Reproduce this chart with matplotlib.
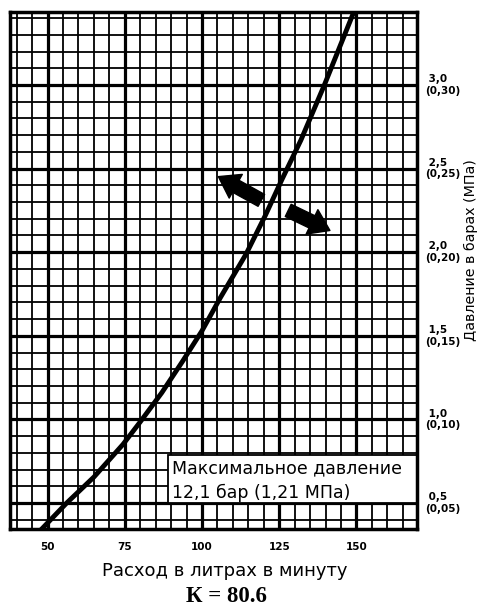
import numpy as np
import matplotlib
matplotlib.use("Agg")
import matplotlib.pyplot as plt
from matplotlib.patches import Rectangle, FancyArrowPatch

# curve (flow l/min, pressure bar)
flow = [47.9, 56.2, 65.0, 74.4, 80.0, 87.0, 93.8, 100.0, 106.0, 114.3, 120.5, 126.0, 132.0, 139.6, 149.2]
pressure = [0.34, 0.50, 0.655, 0.85, 0.985, 1.16, 1.35, 1.53, 1.73, 1.99, 2.22, 2.44, 2.67, 3.00, 3.44]

x_ticks = [50, 75, 100, 125, 150]
y_ticks = [0.5, 1.0, 1.5, 2.0, 2.5, 3.0]
y_labels = [" 0,5\n(0,05)", " 1,0\n(0,10)", " 1,5\n(0,15)",
            " 2,0\n(0,20)", " 2,5\n(0,25)", " 3,0\n(0,30)"]

# arrows (tail -> tip)
arrow_up = ((119.2, 2.31), (105.3, 2.452))
arrow_down = ((127.9, 2.25), (141.4, 2.13))

box_lines = ["Максимальное давление", "12,1 бар (1,21 МПа)"]
x_title = "Расход в литрах в минуту"
y_title = "Давление в барах (МПа)"
k_text = "К = 80.6"

plt.rcParams['font.family'] = ['DejaVu Sans']

fig = plt.figure(figsize=(4.82, 6.09), dpi=100)
ax = fig.add_axes([10 / 482, 1 - 529 / 609, 407 / 482, 517 / 609])
ax.set_xlim(37.86, 169.58)
ax.set_ylim(0.3445, 3.4366)

# graph paper
ax.set_xticks(x_ticks)
ax.set_xticks(np.arange(40, 170, 5), minor=True)
ax.set_yticks(y_ticks)
ax.set_yticks(np.arange(0.4, 3.45, 0.1), minor=True)
ax.grid(which='minor', color='black', lw=1.3)
ax.grid(which='major', color='black', lw=2.3)
ax.set_axisbelow(True)

ax.yaxis.tick_right()
ax.set_yticklabels(y_labels)
ax.set_xticklabels([str(v) for v in x_ticks])
ax.tick_params(which='both', length=0)
ax.tick_params(axis='x', pad=9.5, labelsize=7.5)
ax.tick_params(axis='y', pad=5.5, labelsize=7.5)
for lab in ax.get_xticklabels() + ax.get_yticklabels():
    lab.set_fontweight('bold')
for lab in ax.get_yticklabels():
    lab.set_va('center')
    lab.set_ha('left')
    lab.set_multialignment('left')

for sp in ax.spines.values():
    sp.set_linewidth(2.5)
    sp.set_zorder(6)

ax.plot(flow, pressure, color='black', lw=3.5, zorder=4,
        solid_capstyle='butt', solid_joinstyle='round')

# label box
ax.add_patch(Rectangle((89.0, 0.5), 169.58 - 89.0, 0.29, facecolor='white',
                       edgecolor='black', lw=1.3, zorder=3))
ax.text(90.3, 0.678, box_lines[0], fontsize=12.5, zorder=5, va='baseline')
ax.text(90.3, 0.528, box_lines[1], fontsize=12.5, zorder=5, va='baseline')

for tail, tip in (arrow_up, arrow_down):
    ax.add_patch(FancyArrowPatch(tail, tip,
                                 arrowstyle='simple,head_length=1.1,head_width=1.5,tail_width=0.75',
                                 mutation_scale=13, color='black', shrinkA=0, shrinkB=0, zorder=5))

fig.text(225 / 482, 1 - 571 / 609, x_title, fontsize=13, ha='center', va='center')
fig.text(471 / 482, 1 - 250 / 609, y_title, fontsize=10.3, rotation=90,
         ha='center', va='center')
fig.text(226.5 / 482, 1 - 602 / 609, k_text, fontsize=16.5, fontweight='bold',
         family='Liberation Serif', ha='center', va='baseline')

fig.savefig('out.png', dpi=100)
